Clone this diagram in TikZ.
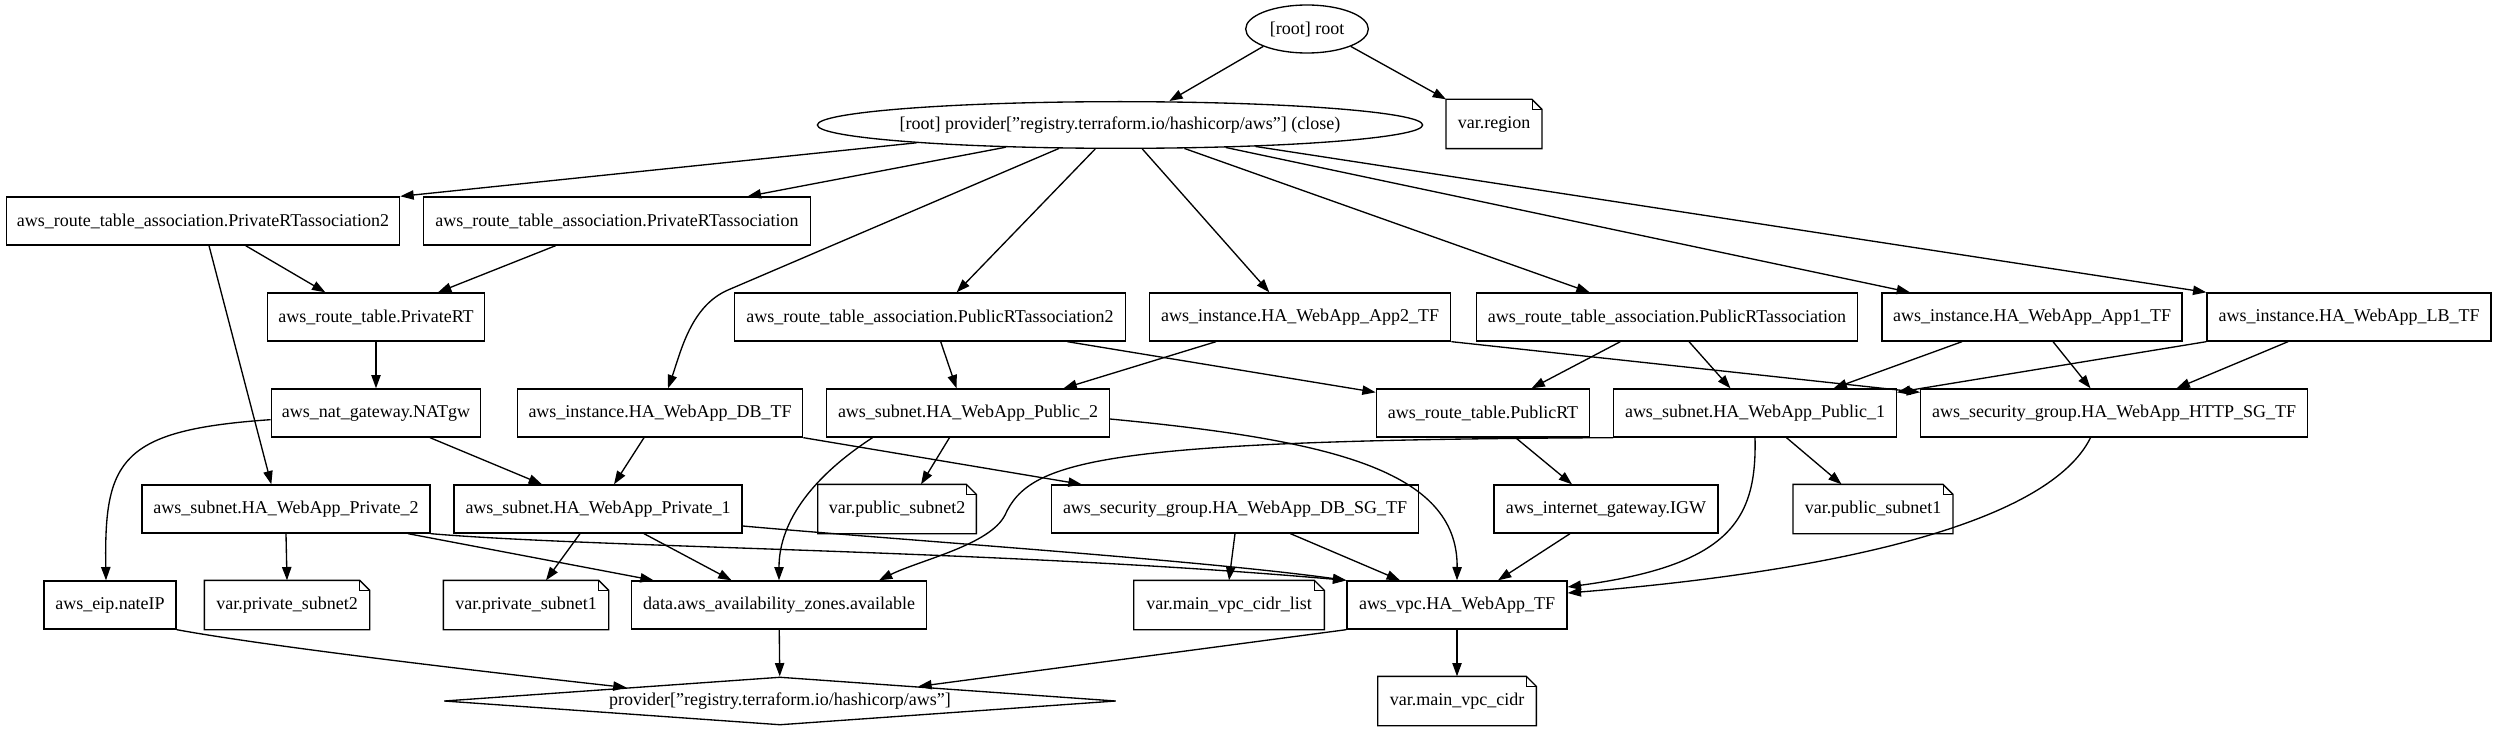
\documentclass[tikz,border=0pt]{standalone}
\usepackage{fontspec}
\setmainfont{Liberation Serif}
\usepackage{tikz}
\usetikzlibrary{shapes,arrows.meta}

\begin{document}
\begin{tikzpicture}[
    x=0.75pt, y=-0.75pt,
    box/.style={rectangle, draw, line width=1pt, minimum height=36pt, inner sep=2pt, align=center},
    oval/.style={ellipse, draw, line width=1pt, inner sep=0pt},
    varnote/.style={box, draw=none},
    diam/.style={diamond, draw, line width=1pt, aspect=14, inner sep=0pt, minimum width=504pt, minimum height=36pt},
    arrow/.style={-{Triangle[length=10pt, width=7pt]}, line width=1pt},
    every node/.style={font=\fontsize{13.5}{16}\selectfont},
]
\useasboundingbox (0,0) rectangle (2497,731);
\node[oval, minimum width=92pt, minimum height=36pt] (root) at (1307,29) {[root] root};
\node[oval, minimum width=454pt, minimum height=35pt, inner xsep=-5pt] (prov) at (1120,125)
    {[root] provider["registry.terraform.io/hashicorp/aws"] (close)};
\node[varnote, minimum width=71pt] (region) at (1494,124) {var.region};
% resources
\node[box, minimum width=295pt] (rtapriv2) at (203,221) {aws\_route\_table\_association.PrivateRTassociation2};
\node[box, minimum width=290pt] (rtapriv) at (617,221) {aws\_route\_table\_association.PrivateRTassociation};
\node[box, minimum width=163pt] (rtpriv) at (376,317) {aws\_route\_table.PrivateRT};
\node[box, minimum width=293pt] (rtapub2) at (930,317) {aws\_route\_table\_association.PublicRTassociation2};
\node[box, minimum width=226pt] (app2) at (1300,317) {aws\_instance.HA\_WebApp\_App2\_TF};
\node[box, minimum width=286pt] (rtapub) at (1667,317) {aws\_route\_table\_association.PublicRTassociation};
\node[box, minimum width=225pt] (app1) at (2032,317) {aws\_instance.HA\_WebApp\_App1\_TF};
\node[box, minimum width=213pt] (lb) at (2349,317) {aws\_instance.HA\_WebApp\_LB\_TF};
\node[box, minimum width=157pt] (nat) at (376,413) {aws\_nat\_gateway.NATgw};
\node[box, minimum width=214pt] (db) at (660,413) {aws\_instance.HA\_WebApp\_DB\_TF};
\node[box, minimum width=212pt] (pub2) at (968,413) {aws\_subnet.HA\_WebApp\_Public\_2};
\node[box, minimum width=160pt] (rtpub) at (1483,413) {aws\_route\_table.PublicRT};
\node[box, minimum width=212pt] (pub1) at (1755,413) {aws\_subnet.HA\_WebApp\_Public\_1};
\node[box, minimum width=290pt] (httpsg) at (2114,413) {aws\_security\_group.HA\_WebApp\_HTTP\_SG\_TF};
\node[box, minimum width=216pt] (priv2) at (286,509) {aws\_subnet.HA\_WebApp\_Private\_2};
\node[box, minimum width=216pt] (priv1) at (598,509) {aws\_subnet.HA\_WebApp\_Private\_1};
\node[varnote, minimum width=118pt] (pubsub2) at (897,509) {var.public\_subnet2};
\node[box, minimum width=275pt] (dbsg) at (1235,509) {aws\_security\_group.HA\_WebApp\_DB\_SG\_TF};
\node[box, minimum width=168pt] (igw) at (1606,509) {aws\_internet\_gateway.IGW};
\node[varnote, minimum width=119pt] (pubsub1) at (1873,509) {var.public\_subnet1};
\node[box, minimum width=99pt] (eip) at (110,605) {aws\_eip.nateIP};
\node[varnote, minimum width=123pt] (privsub2) at (287,605) {var.private\_subnet2};
\node[varnote, minimum width=123pt] (privsub1) at (526,605) {var.private\_subnet1};
\node[box, minimum width=221pt] (azs) at (779,605) {data.aws\_availability\_zones.available};
\node[varnote, minimum width=142pt] (cidrlist) at (1229,605) {var.main\_vpc\_cidr\_list};
\node[box, minimum width=165pt] (vpc) at (1457,605) {aws\_vpc.HA\_WebApp\_TF};
\node[diam] (awsprov) at (780,701) {provider["registry.terraform.io/hashicorp/aws"]};
\node[varnote, minimum width=118pt] (cidr) at (1457,701) {var.main\_vpc\_cidr};
% folded corners of the variables
\foreach \n in {region,pubsub2,pubsub1,privsub2,privsub1,cidrlist,cidr}{
    \draw[line width=1pt] (\n.south west) -- (\n.north west) -- ([xshift=-7.5pt]\n.north east)
        -- ([yshift=-7.5pt]\n.north east) -- (\n.south east) -- cycle;
    \draw[line width=0.6pt] ([xshift=-7.5pt]\n.north east) -- ([xshift=-7.5pt,yshift=-7.5pt]\n.north east)
        -- ([yshift=-7.5pt]\n.north east);
}
\draw[arrow] (root.south west) -- ([xshift=37pt]prov.north);
\draw[arrow] (root.south east) -- (region.north west);
\draw[arrow] (prov.185.5) -- (rtapriv2.north east);
\draw[arrow] (prov.191.3) -- ([xshift=98pt]rtapriv.north);
\draw[arrow] (prov.201.6) -- (728,290) .. controls (691,306) and (681,351) .. ([xshift=6pt]db.north);
\draw[arrow] (prov.224.3) -- ([xshift=20pt]rtapub2.north);
\draw[arrow] (prov.313.2) -- ([xshift=-23pt]app2.north);
\draw[arrow] (prov.340.6) -- ([xshift=-58pt]rtapub.north);
\draw[arrow] (prov.348.2) -- ([xshift=-91.5pt]app1.north);
\draw[arrow] (prov.351.4) -- (lb.north west);
\draw[arrow] ([xshift=32pt]rtapriv2.south) -- ([xshift=-38pt]rtpriv.north);
\draw[arrow] ([xshift=4.5pt]rtapriv2.south) -- ([xshift=-11pt]priv2.north);
\draw[arrow] ([xshift=-46pt]rtapriv.south) -- ([xshift=46.5pt]rtpriv.north);
\draw[arrow] (rtpriv) -- (nat);
\draw[arrow] ([xshift=8pt]rtapub2.south) -- ([xshift=-8.6pt]pub2.north);
\draw[arrow] ([xshift=103pt]rtapub2.south) -- ([yshift=-3pt]rtpub.north west);
\draw[arrow] ([xshift=-63pt]app2.south) -- ([xshift=71.6pt]pub2.north);
\draw[arrow] (app2.south east) -- ([yshift=-3pt]httpsg.north west);
\draw[arrow] ([xshift=-35pt]rtapub.south) -- ([xshift=36.4pt]rtpub.north);
\draw[arrow] ([xshift=16.5pt]rtapub.south) -- ([xshift=-18.4pt]pub1.north);
\draw[arrow] ([xshift=-52.5pt]app1.south) -- ([xshift=58.9pt]pub1.north);
\draw[arrow] ([xshift=15.75pt]app1.south) -- ([xshift=-17.6pt]httpsg.north);
\draw[arrow] (lb.south west) -- ([yshift=-3pt]pub1.north east);
\draw[arrow] ([xshift=-45.75pt]lb.south) -- ([xshift=46.9pt]httpsg.north);
\draw[arrow] ([xshift=40.5pt]nat.south) -- ([xshift=-42pt]priv1.north);
\draw[arrow] ([yshift=-5pt]nat.west) .. controls (120,430) and (104,460) .. ([xshift=-3pt]eip.north);
\draw[arrow] ([xshift=-12pt]db.south) -- ([xshift=12pt]priv1.north);
\draw[arrow] (db.south east) -- ([xshift=-115pt]dbsg.north);
\draw[arrow] ([xshift=-71.6pt]pub2.south) .. controls (815,475) and (779,520) .. (azs.north);
\draw[arrow] ([xshift=-13.9pt]pub2.south) -- ([xshift=18pt]pubsub2.north);
\draw[arrow] ([yshift=-4.5pt]pub2.east) .. controls (1330,440) and (1458,470) .. (vpc.north);
\draw[arrow] ([xshift=24.4pt]rtpub.south) -- ([xshift=-25.5pt]igw.north);
\draw[arrow] (pub1.south west) .. controls (1100,440) and (1030,460) .. (1005,515)
    .. controls (990,545) and (920,560) .. ([xshift=75pt]azs.north);
\draw[arrow] (pub1.south) .. controls (1757,520) and (1730,565) .. ([yshift=13.5pt]vpc.east);
\draw[arrow] ([xshift=23.6pt]pub1.south) -- ([xshift=-23.6pt]pubsub1.north);
\draw[arrow] ([xshift=-17.6pt]httpsg.south) .. controls (2050,520) and (1850,570) .. ([yshift=9pt]vpc.east);
\draw[arrow] (priv2.south) -- (privsub2.north);
\draw[arrow] ([xshift=91.5pt]priv2.south) -- ([xshift=-94pt]azs.north);
\draw[arrow] (priv2.south east) .. controls (600,548) and (1000,550) .. (vpc.north west);
\draw[arrow] ([xshift=-13.5pt]priv1.south) -- ([xshift=15pt]privsub1.north);
\draw[arrow] ([xshift=34.5pt]priv1.south) -- ([xshift=-35.6pt]azs.north);
\draw[arrow] ([yshift=-12.75pt]priv1.east) .. controls (900,540) and (1200,560) .. (vpc.north west);
\draw[arrow] (dbsg.south) -- (cidrlist.north);
\draw[arrow] ([xshift=41.6pt]dbsg.south) -- ([xshift=-42.75pt]vpc.north);
\draw[arrow] ([xshift=-27pt]igw.south) -- ([xshift=30.75pt]vpc.north);
\draw[arrow] (vpc) -- (cidr);
\draw[arrow] (vpc.south west) -- (awsprov.6.2);
\draw[arrow] (azs) -- (awsprov);
\draw[arrow] (eip.south east) .. controls (260,645) and (450,668) .. (awsprov.175.4);
\end{tikzpicture}
\end{document}
